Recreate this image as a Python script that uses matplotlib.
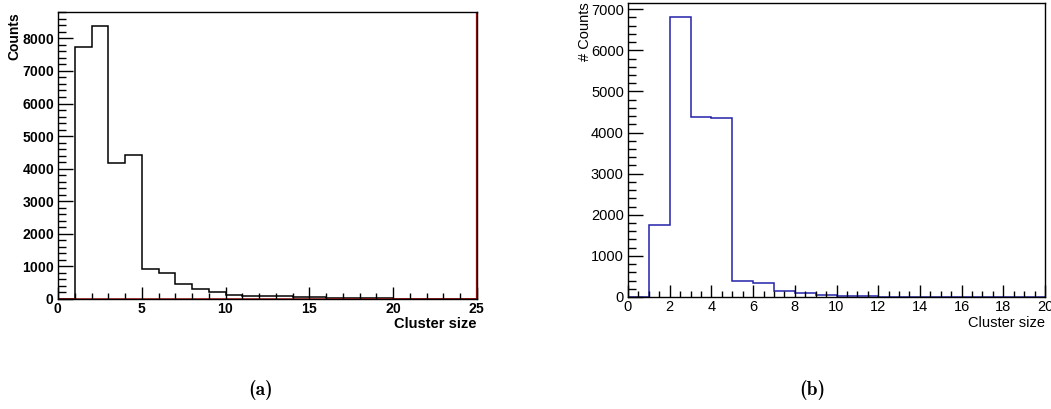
import matplotlib
matplotlib.use("Agg")
import matplotlib.pyplot as plt
from matplotlib.ticker import MultipleLocator, FuncFormatter
import numpy as np

plt.rcParams["mathtext.fontset"] = "custom"
plt.rcParams["mathtext.bf"] = "Liberation Sans:bold"
plt.rcParams["mathtext.rm"] = "Liberation Sans"

# Cluster-size histograms, unit-width bins
edges_a = np.arange(0, 26)
counts_a = [0, 7750, 8390, 4160, 4420, 935, 790, 470, 305, 210,
            110, 100, 100, 80, 60, 55, 40, 30, 20, 20,
            8, 5, 4, 3, 2]
empty_a = [0] * 25

edges_b = np.arange(0, 21)
counts_b = [0, 1740, 6810, 4370, 4350, 395, 335, 135, 90, 60,
            25, 15, 12, 10, 8, 6, 5, 4, 3, 2]

W, H = 1051, 409
fig = plt.figure(figsize=(W / 100, H / 100), dpi=100)


def frac(x0, x1, ytop, ybot):
    return [x0 / W, 1 - ybot / H, (x1 - x0) / W, (ybot - ytop) / H]


def style_axes(ax, xmaj, xmin, ymaj, ymin, size, bold):
    ax.xaxis.set_major_locator(MultipleLocator(xmaj))
    ax.xaxis.set_minor_locator(MultipleLocator(xmin))
    ax.yaxis.set_major_locator(MultipleLocator(ymaj))
    ax.yaxis.set_minor_locator(MultipleLocator(ymin))
    if bold:
        fmt = FuncFormatter(lambda v, p: r"$\mathbf{%d}$" % round(v))
        ax.xaxis.set_major_formatter(fmt)
        ax.yaxis.set_major_formatter(fmt)
    ax.tick_params(which="both", direction="in", top=False, right=False,
                   width=1.0, color="black", labelsize=size,
                   labelfontfamily="Liberation Sans")
    ax.tick_params(axis="x", which="major", length=9, pad=2)
    ax.tick_params(axis="x", which="minor", length=4.5)
    ax.tick_params(axis="y", which="major", length=11, pad=3)
    ax.tick_params(axis="y", which="minor", length=6)
    for s in ax.spines.values():
        s.set_linewidth(1.0)


# (a)
axa = fig.add_axes(frac(58, 477, 12, 299))
axa.stairs(counts_a, edges_a, color="black", lw=1.1, baseline=0)
axa.stairs(empty_a, edges_a, color="#b01010", lw=1.1, baseline=0)
axa.axvline(24.96, color="#b01010", lw=0.9)
axa.set_xlim(0, 25)
axa.set_ylim(0, max(counts_a) * 1.05)
style_axes(axa, 5, 1, 1000, 200, 10, True)
fig.text(14 / W, 1 - 12 / H, "Counts", rotation=90, ha="center", va="top",
         fontsize=10, fontweight="bold", family="Liberation Sans")
fig.text(477 / W, 1 - 324 / H, "Cluster size", ha="right", va="center",
         fontsize=10.5, fontweight="bold", family="Liberation Sans")

# (b)
axb = fig.add_axes(frac(628, 1045, 3, 297))
axb.stairs(counts_b, edges_b, color="#2222aa", lw=1.1, baseline=0)
axb.set_xlim(0, 20)
axb.set_ylim(0, max(counts_b) * 1.05)
style_axes(axb, 2, 0.5, 1000, 200, 10.5, False)
fig.text(585 / W, 1 - 2 / H, "# Counts", rotation=90, ha="center", va="top",
         fontsize=10.5, family="Liberation Sans")
fig.text(1045 / W, 1 - 323 / H, "Cluster size", ha="right", va="center",
         fontsize=10.5, family="Liberation Sans")

# Sub-figure captions
fig.text(261 / W, 1 - 390 / H, "(a)", ha="center", va="center",
         fontsize=14, family="cmb10")
fig.text(812 / W, 1 - 390 / H, "(b)", ha="center", va="center",
         fontsize=14, family="cmb10")

fig.savefig("out.png", dpi=100)
